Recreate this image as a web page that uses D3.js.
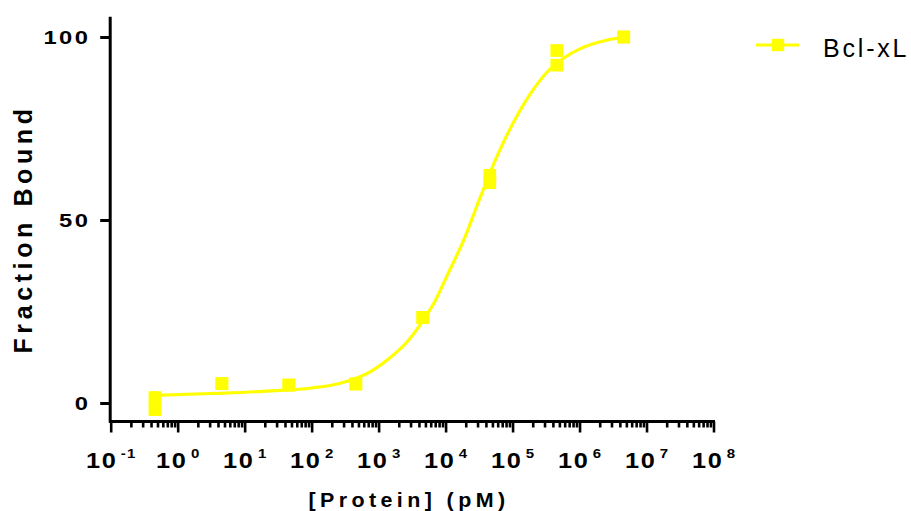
<!DOCTYPE html>
<html><head><meta charset="utf-8">
<script src="https://cdn.jsdelivr.net/npm/d3@7"></script>
<style>body{margin:0;background:#fff}svg{display:block}</style></head>
<body><svg id="chart" width="911" height="511"></svg>
<script>
// ---- data ----
const seriesName = "Bcl-xL";
const concentrations = [0.457, 4.57, 45.7, 457, 4570, 45700, 457000, 4570000]; // pM
const replicate1 = [1.5, 5.3, 4.9, 5.2, 23.4, 62.2, 96.3, 100.0];
const replicate2 = [-1.8, 5.3, 4.9, 5.2, 23.4, 60.2, 92.3, 100.0];
// fitted curve
const fitConc = [0.457, 3.16, 25.1, 100, 269, 794, 1514, 2692, 4677, 7079, 10470, 18620, 33110, 58880, 104700, 186200, 331100, 575400, 1047000, 1862000, 4571000];
const fitValues = [2.1, 2.6, 3.3, 4.1, 5.4, 8.8, 12.5, 16.8, 22.7, 28.1, 34.7, 44.5, 56.3, 67.5, 76.9, 84.6, 90.5, 94.2, 96.9, 98.5, 100.0];
const xTickExponents = [-1, 0, 1, 2, 3, 4, 5, 6, 7, 8];
const yTickValues = [0, 50, 100];
const xTitle = "[Protein] (pM)";
const yTitle = "Fraction Bound";

// ---- drawing ----
const svg = d3.select("#chart");
const color = "#FFFF00";
const x = d3.scaleLog().domain([0.1, 1e8]).range([110.7, 713.5]);
const y = d3.scaleLinear().domain([-5, 105]).range([421.3, 18.7]);
const FONT = "'Liberation Sans', Arial, Helvetica, sans-serif";

// axes
const xAxisG = svg.append("g").attr("transform", "translate(0,421.5)");
const majors = xTickExponents.map(e => Math.pow(10, e));
const minors = x.ticks().filter(v => !majors.some(m => Math.abs(m - v) / m < 1e-6));
xAxisG.call(d3.axisBottom(x).tickValues(majors).tickSize(11).tickFormat(""));
xAxisG.append("g").call(d3.axisBottom(x).tickValues(minors).tickSize(6).tickFormat(""))
  .select(".domain").remove();
xAxisG.selectAll(".domain").attr("stroke", "#000").attr("stroke-width", 3)
  .attr("d", `M${x.range()[0] - 1.5},0H${x.range()[1] + 1.5}`);
xAxisG.selectAll(".tick line").attr("stroke", "#000").attr("stroke-width", 2.6);

const yAxisG = svg.append("g").attr("transform", "translate(110.2,0)");
yAxisG.call(d3.axisLeft(y).tickValues(yTickValues).tickSize(10).tickFormat(""));
yAxisG.select(".domain").attr("stroke", "#000").attr("stroke-width", 3)
  .attr("d", `M0,${y.range()[1] - 2}V${y.range()[0] + 1.5}`);
yAxisG.selectAll(".tick line").attr("stroke", "#000").attr("stroke-width", 3);

// y tick labels (wide bold digits)
svg.append("g").selectAll("text").data(yTickValues).join("text")
  .attr("transform", d => `translate(90.5,${y(d) + 7}) scale(1.25,1)`)
  .attr("text-anchor", "end")
  .attr("font-family", FONT).attr("font-weight", "bold").attr("font-size", 19)
  .attr("letter-spacing", 2)
  .text(d => d);

// x tick labels: 10 with superscript exponent
const xl = svg.append("g");
const SX1 = 1.15, SX2 = 1.2, GAP = 5;
xTickExponents.forEach(e => {
  const cx = x(Math.pow(10, e));
  const g = xl.append("g");
  const base = g.append("text")
    .attr("font-family", FONT).attr("font-weight", "bold").attr("font-size", 22)
    .attr("letter-spacing", 1.5).text("10");
  const sup = g.append("text")
    .attr("font-family", FONT).attr("font-weight", "bold").attr("font-size", 12.5)
    .attr("letter-spacing", 1).text(e);
  const w1 = (base.node().getComputedTextLength() - 1.5) * SX1;
  const w2 = (sup.node().getComputedTextLength() - 1) * SX2;
  const total = w1 + GAP + w2;
  const x0 = cx - total / 2;
  base.attr("transform", `translate(${x0},467.5) scale(${SX1},1)`);
  sup.attr("transform", `translate(${x0 + w1 + GAP},457.5) scale(${SX2},1)`);
});

// titles
svg.append("text")
  .attr("transform", "translate(409,506.5) scale(1.1,1)")
  .attr("text-anchor", "middle")
  .attr("font-family", FONT).attr("font-weight", "bold").attr("font-size", 19.5)
  .attr("letter-spacing", 4)
  .text(xTitle);
svg.append("text")
  .attr("transform", "translate(31.8,229) rotate(-90)")
  .attr("text-anchor", "middle")
  .attr("font-family", FONT).attr("font-weight", "bold").attr("font-size", 25)
  .attr("letter-spacing", 4.6)
  .text(yTitle);

// fitted curve
const fit = fitConc.map((c, i) => [x(c), y(fitValues[i])]);
svg.append("path").attr("d", d3.line().curve(d3.curveMonotoneX)(fit))
  .attr("fill", "none").attr("stroke", color).attr("stroke-width", 3.2);

// data squares
const S = 12.7;
const pts = concentrations.flatMap((c, i) => [[c, replicate1[i]], [c, replicate2[i]]]);
svg.append("g").selectAll("rect").data(pts).join("rect")
  .attr("x", d => x(d[0]) - S / 2).attr("y", d => y(d[1]) - S / 2)
  .attr("width", S).attr("height", S).attr("fill", color);

// legend
const lg = svg.append("g");
lg.append("line").attr("x1", 756).attr("x2", 799).attr("y1", 45).attr("y2", 45)
  .attr("stroke", color).attr("stroke-width", 3.2);
lg.append("rect").attr("x", 778 - 6.2).attr("y", 45 - 6.2).attr("width", 12.4).attr("height", 12.4).attr("fill", color);
lg.append("text").attr("x", 823).attr("y", 56.5)
  .attr("font-family", FONT).attr("font-size", 25).attr("letter-spacing", 2.8)
  .text(seriesName);
</script></body></html>
